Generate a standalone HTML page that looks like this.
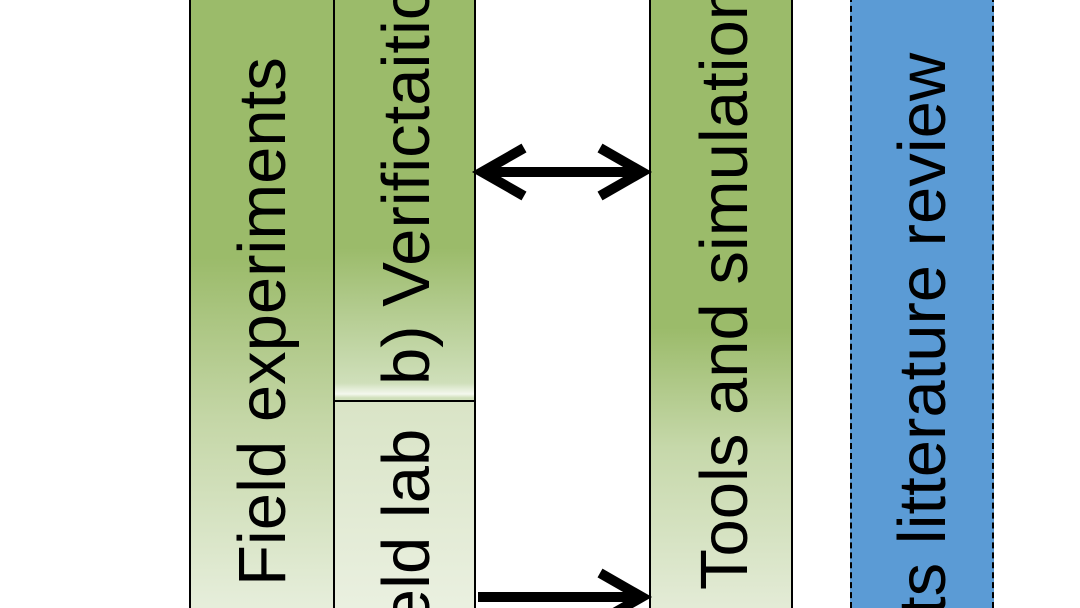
<!DOCTYPE html>
<html style="overflow:hidden;width:1080px;height:608px"><head><meta charset="utf-8"><style>
body{margin:0;width:1080px;height:608px;overflow:hidden;background:#fff;font-family:"Liberation Sans",Arial,sans-serif}
#w{position:relative;width:1080px;height:608px;overflow:hidden}
.b{position:absolute;box-sizing:border-box;border:2px solid #000}
.t{position:absolute;left:0;top:0;white-space:nowrap;font-size:67px;line-height:68px;transform-origin:0 0;color:#000}
</style></head><body><div id="w">
<div class="b" style="left:189px;top:-4px;width:146px;height:612px;border-bottom:none;background:linear-gradient(#9bbb6a 0px,#9bbb6a 260px,#c4d6a6 420px,#e6eedb 608px)"></div>
<div class="b" style="left:333px;top:-4px;width:143px;height:406px;background:linear-gradient(#9bbb6a 0px,#9bbb6a 250px,#cfdfba 385px,#f4f8ee 396px,#cfdfba 400px)"></div>
<div class="b" style="left:333px;top:400px;width:143px;height:208px;border-bottom:none;background:linear-gradient(#d9e4c6,#eaf0e0)"></div>
<div class="b" style="left:649px;top:-4px;width:144px;height:612px;border-bottom:none;background:linear-gradient(#9bbb6a 0px,#9bbb6a 330px,#c6d8aa 450px,#e3ebd6 608px)"></div>
<div class="b" style="left:850px;top:-4px;width:144px;height:612px;border:2px dashed #000;border-bottom:none;background:#5b9bd5"></div>

<div class="t" style="transform:translate(229px,586px) rotate(-90deg)">Field experiments</div>
<div class="t" style="transform:translate(373px,385px) rotate(-90deg)">b) Verifictaition</div>
<div class="t" style="transform:translate(373px,682px) rotate(-90deg)">Field lab</div>
<div class="t" style="transform:translate(691px,590px) rotate(-90deg)">Tools and simulations</div>
<div class="t" style="transform:translate(889px,790px) rotate(-90deg)">Experts litterature review</div>

<svg width="1080" height="608" style="position:absolute;left:0;top:0">
<g stroke="#000" stroke-width="10" fill="none" stroke-linecap="butt">
<line x1="482" y1="172" x2="642" y2="172"/>
<polyline points="524,148 482,172 524,196" stroke-linejoin="miter"/>
<polyline points="600,148 642,172 600,196" stroke-linejoin="miter"/>
<line x1="478" y1="597" x2="642" y2="597"/>
<polyline points="600,573 642,597 600,621" stroke-linejoin="miter"/>
</g>
</svg>
</div></body></html>
